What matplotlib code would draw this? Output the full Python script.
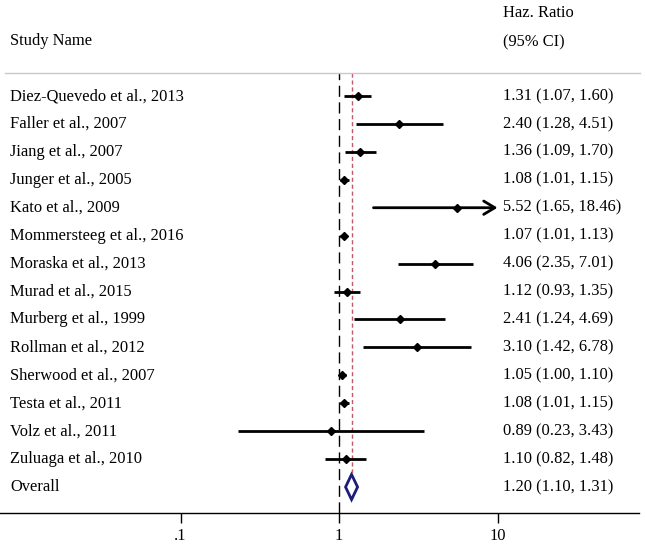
import matplotlib
matplotlib.use("Agg")
import matplotlib.pyplot as plt
from matplotlib.lines import Line2D
from matplotlib.patches import Polygon
from matplotlib.transforms import blended_transform_factory

plt.rcParams['font.family'] = ['Liberation Serif', 'DejaVu Serif']

# study data (hazard ratios with 95% CI)
studies = ["Diez-Quevedo et al., 2013", "Faller et al., 2007", "Jiang et al., 2007",
           "Junger et al., 2005", "Kato et al., 2009", "Mommersteeg et al., 2016",
           "Moraska et al., 2013", "Murad et al., 2015", "Murberg et al., 1999",
           "Rollman et al., 2012", "Sherwood et al., 2007", "Testa et al., 2011",
           "Volz et al., 2011", "Zuluaga et al., 2010"]
hr = [1.31, 2.40, 1.36, 1.08, 5.52, 1.07, 4.06, 1.12, 2.41, 3.10, 1.05, 1.08, 0.89, 1.10]
lo = [1.07, 1.28, 1.09, 1.01, 1.65, 1.01, 2.35, 0.93, 1.24, 1.42, 1.00, 1.01, 0.23, 0.82]
hi = [1.60, 4.51, 1.70, 1.15, 18.46, 1.13, 7.01, 1.35, 4.69, 6.78, 1.10, 1.15, 3.43, 1.48]
overall = (1.20, 1.10, 1.31)
x_ticks = [0.1, 1, 10]
x_ticklabels = [".1", "1", "10"]
ci_max = 10  # CIs beyond this get an arrow

W, H = 645, 546
fig = plt.figure(figsize=(W / 100, H / 100), dpi=100)

# axes spans pixel x 0..639, y 73..513
ax = fig.add_axes([0, 1 - 513 / H, 639 / W, (513 - 73) / H])
ax.set_xscale("log")
ax.set_xlim(10 ** (-339 / 158.5), 10 ** ((639 - 339) / 158.5))
row_h = 27.93
ax.set_ylim((513 - 96) / row_h, (73 - 96) / row_h)

for s in ["top", "left", "right"]:
    ax.spines[s].set_visible(False)
ax.spines["bottom"].set_linewidth(1.0)
ax.set_yticks([])
ax.set_xticks(x_ticks)
ax.set_xticklabels(x_ticklabels, fontsize=11.9)
ax.minorticks_off()
ax.tick_params(axis="x", direction="out", length=7, width=1, pad=4)

n = len(studies)
ybot, ytop = ax.get_ylim()

# null line and overall line
ax.axvline(1, color="black", lw=1, dashes=(8, 4))
ax.plot([overall[0], overall[0]], [ytop, n - 0.45], color="#c05a6a", lw=1, dashes=(3, 2))

# study CIs and points
for i in range(n):
    if hi[i] > ci_max:
        ax.annotate("", xy=(ci_max, i), xytext=(lo[i], i),
                    arrowprops=dict(arrowstyle="->,head_length=0.5,head_width=0.3",
                                    lw=2, color="black",
                                    mutation_scale=16, shrinkA=0, shrinkB=0))
    else:
        ax.plot([lo[i], hi[i]], [i, i], color="black", lw=2, solid_capstyle="butt")
    ax.plot(hr[i], i, marker="D", color="black", markersize=4.2)

# overall diamond
est, olo, ohi = overall
dia = Polygon([(olo, n), (est, n - 0.45), (ohi, n), (est, n + 0.45)],
              closed=True, fill=False, edgecolor="#1c1c7a", lw=2)
ax.add_patch(dia)

# labels
tr = blended_transform_factory(fig.transFigure, ax.transData)
for i in range(n):
    ax.text(10 / W, i, studies[i], transform=tr, fontsize=11.9, va="center", ha="left")
    ax.text(503 / W, i, f"{hr[i]:.2f} ({lo[i]:.2f}, {hi[i]:.2f})", transform=tr,
            fontsize=11.9, va="center", ha="left")
ax.text(10 / W, n, "Overall", transform=tr, fontsize=11.9, va="center", ha="left")
ax.text(503 / W, n, f"{est:.2f} ({olo:.2f}, {ohi:.2f})", transform=tr,
        fontsize=11.9, va="center", ha="left")

# header
fig.text(10 / W, 1 - 41 / H, "Study Name", fontsize=11.9, va="center", ha="left")
fig.text(503 / W, 1 - 13 / H, "Haz. Ratio", fontsize=11.9, va="center", ha="left")
fig.text(503 / W, 1 - 42 / H, "(95% CI)", fontsize=11.9, va="center", ha="left")
fig.add_artist(Line2D([5 / W, 640 / W], [1 - 73 / H, 1 - 73 / H], color="#c8c8c8", lw=1))

fig.savefig("out.png", dpi=100)
